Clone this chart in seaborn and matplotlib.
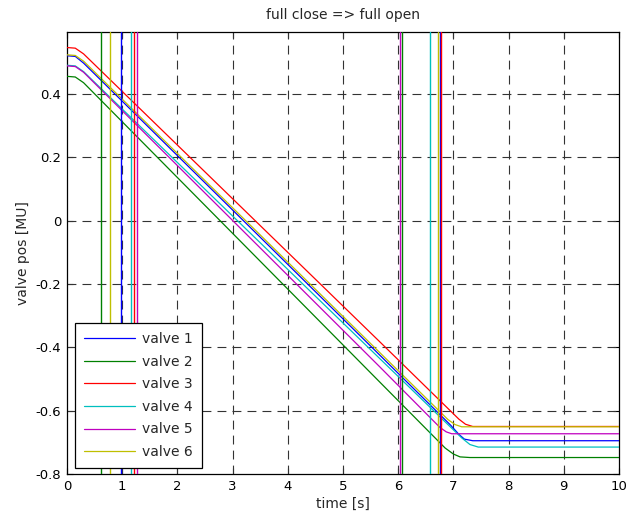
import matplotlib
matplotlib.use("Agg")
import matplotlib.pyplot as plt
import seaborn as sns
import pandas as pd

# ---- data ----
valves = ["valve 1", "valve 2", "valve 3", "valve 4", "valve 5", "valve 6"]
colors = ["#0000ff", "#008000", "#ff0000", "#00bfbf", "#bf00bf", "#bfbf00"]

t_v1 = [0, 0.15, 0.3, 5.65, 6.95, 7.10, 7.20, 7.35, 10]
p_v1 = [0.520, 0.518, 0.497, -0.422, -0.646, -0.675, -0.690, -0.695, -0.695]
t_v2 = [0, 0.15, 0.3, 5.65, 6.85, 7.00, 7.12, 7.30, 10]
p_v2 = [0.455, 0.453, 0.435, -0.507, -0.718, -0.737, -0.746, -0.748, -0.748]
t_v3 = [0, 0.15, 0.3, 5.65, 7.10, 7.22, 7.35, 10]
p_v3 = [0.546, 0.544, 0.526, -0.380, -0.627, -0.643, -0.650, -0.650]
t_v4 = [0, 0.15, 0.3, 5.65, 7.15, 7.30, 7.45, 10]
p_v4 = [0.490, 0.488, 0.470, -0.433, -0.686, -0.707, -0.715, -0.715]
t_v5 = [0, 0.15, 0.3, 5.65, 6.75, 6.87, 6.97, 10]
p_v5 = [0.488, 0.486, 0.468, -0.459, -0.652, -0.667, -0.673, -0.673]
t_v6 = [0, 0.15, 0.3, 5.65, 6.90, 7.03, 7.15, 10]
p_v6 = [0.523, 0.521, 0.503, -0.414, -0.628, -0.644, -0.651, -0.651]

mark_start = [0.97, 0.61, 1.22, 1.16, 1.27, 0.77]
mark_end = [6.76, 6.07, 6.78, 6.57, 6.04, 6.72]

x_ticks = [0, 1, 2, 3, 4, 5, 6, 7, 8, 9, 10]
y_ticks = [-0.8, -0.6, -0.4, -0.2, 0, 0.2, 0.4]
y_ticklabels = ["-0.8", "-0.6", "-0.4", "-0.2", "0", "0.2", "0.4"]

# ---- build long table ----
times = [t_v1, t_v2, t_v3, t_v4, t_v5, t_v6]
poss = [p_v1, p_v2, p_v3, p_v4, p_v5, p_v6]
rows = []
for name, ts, ps in zip(valves, times, poss):
    for t, p in zip(ts, ps):
        rows.append({"time": t, "pos": p, "valve": name})
df = pd.DataFrame(rows)

sns.set_theme(style="white")
plt.rcParams["font.family"] = ["DejaVu Sans"]

fig = plt.figure(figsize=(6.28, 5.2), dpi=100)
ax = fig.add_axes([67 / 628, 46 / 520, 552 / 628, 442 / 520])

ax.set_xlim(0, 10)
ax.set_ylim(-0.8, 0.595)

# grid
for xv in x_ticks[1:-1]:
    ax.axvline(xv, color="0.2", lw=0.8, ls=(0, (8, 5.5)), zorder=1)
for yv in y_ticks[1:]:
    ax.axhline(yv, color="0.2", lw=0.8, ls=(0, (8, 5.5)), zorder=1)

sns.lineplot(data=df, x="time", y="pos", hue="valve", palette=colors,
             estimator=None, sort=False, lw=0.9, ax=ax, zorder=3)

for xs, xe, c in zip(mark_start, mark_end, colors):
    ax.axvline(xs, color=c, lw=1.0, zorder=4)
    ax.axvline(xe, color=c, lw=1.0, zorder=4)

ax.set_xticks(x_ticks)
ax.set_xticklabels([str(v) for v in x_ticks], fontsize=9.5)
ax.set_yticks(y_ticks)
ax.set_yticklabels(y_ticklabels, fontsize=9.5)
ax.tick_params(direction="in", length=4, width=0.8, top=True, right=True,
               bottom=True, left=True, colors="black", pad=4)
for s in ax.spines.values():
    s.set_color("black")
    s.set_linewidth(0.9)

ax.set_xlabel("time [s]", fontsize=10, labelpad=3)
ax.set_ylabel("valve pos [MU]", fontsize=10, labelpad=4)
ax.set_title("full close => full open", fontsize=10, pad=9)

handles, labels = ax.get_legend_handles_labels()
leg = ax.legend(handles, labels, loc="lower left",
                bbox_to_anchor=(8 / 552, 6 / 442), borderaxespad=0,
                fontsize=10, handlelength=3.7, handletextpad=0.5,
                labelspacing=0.62, borderpad=0.65, fancybox=False,
                framealpha=1, edgecolor="black", frameon=True)
leg.get_frame().set_linewidth(0.9)
leg.set_zorder(10)

fig.savefig("out.png", dpi=100, facecolor="white")
